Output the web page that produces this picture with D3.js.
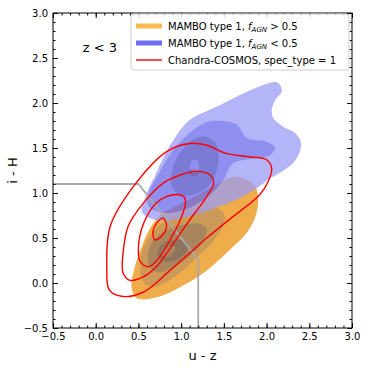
<!DOCTYPE html>
<html>
<head>
<meta charset="utf-8">
<script src="https://cdn.jsdelivr.net/npm/d3@7"></script>
<style>
  body { margin: 0; background: #fff; }
  text { font-family: "DejaVu Sans", sans-serif; }
</style>
</head>
<body>
<div id="chart"></div>
<script>
// axis ranges and ticks
var xDomain = [-0.5, 3.0];
var yDomain = [-0.5, 3.0];
var majorTicks = [-0.5, 0.0, 0.5, 1.0, 1.5, 2.0, 2.5, 3.0];

// MAMBO type 1, fAGN > 0.5 : density levels (u-z, i-H), outer -> inner
var agnHi1 = [[0.48,-0.17],[0.75,-0.15],[1.0,-0.04],[1.3,0.14],[1.57,0.37],[1.77,0.56],[1.88,0.77],[1.90,0.96],[1.86,1.08],[1.65,1.18],[1.42,1.10],[1.2,0.98],[0.95,0.86],[0.75,0.75],[0.62,0.58],[0.53,0.38],[0.45,0.15],[0.42,-0.05]];
var agnHi2 = [[0.52,0.15],[0.58,-0.01],[0.70,-0.04],[0.91,0.06],[1.18,0.28],[1.42,0.52],[1.52,0.72],[1.45,0.82],[1.2,0.82],[0.95,0.75],[0.72,0.62],[0.56,0.40]];
var agnHi3 = [[0.62,0.2],[0.72,0.12],[0.9,0.17],[1.1,0.3],[1.25,0.45],[1.3,0.6],[1.2,0.66],[0.98,0.64],[0.78,0.56],[0.64,0.42]];
var agnHi4 = [[0.72,0.3],[0.8,0.24],[0.95,0.26],[1.07,0.36],[1.06,0.46],[0.92,0.48],[0.78,0.44]];
var agnHiHole = [[0.78,0.30],[0.84,0.28],[0.92,0.35],[0.93,0.40],[0.86,0.41],[0.79,0.36]];
var agnHiSpot = [[1.08,1.23],[1.13,1.27],[1.19,1.25],[1.2,1.21],[1.14,1.19]];

// MAMBO type 1, fAGN < 0.5
var agnLo1 = [[2.12,2.23],[2.18,2.14],[2.10,2.03],[2.06,1.92],[2.08,1.83],[2.19,1.74],[2.33,1.67],[2.40,1.57],[2.39,1.46],[2.31,1.33],[2.18,1.24],[2.04,1.16],[1.88,1.05],[1.70,0.95],[1.50,0.87],[1.16,0.76],[0.90,0.70],[0.70,0.70],[0.54,0.79],[0.58,0.95],[0.62,1.05],[0.69,1.18],[0.77,1.35],[0.91,1.59],[1.10,1.81],[1.42,1.96],[1.69,2.09],[1.96,2.2]];
var agnLo2 = [[1.30,1.79],[1.48,1.80],[1.65,1.76],[1.77,1.61],[2.0,1.57],[2.1,1.50],[2.04,1.42],[1.88,1.39],[1.61,1.33],[1.49,1.14],[1.30,0.95],[1.06,0.82],[0.80,0.78],[0.62,0.85],[0.62,1.0],[0.73,1.2],[0.85,1.40],[0.99,1.57],[1.14,1.70]];
var agnLo3 = [[1.26,1.63],[1.40,1.56],[1.44,1.40],[1.40,1.20],[1.30,1.06],[1.14,0.98],[0.98,0.98],[0.89,1.08],[0.90,1.28],[0.99,1.45],[1.12,1.58]];
var agnLoHole = [[1.10,1.30],[1.14,1.37],[1.19,1.36],[1.21,1.28],[1.17,1.22],[1.12,1.23]];

// Chandra-COSMOS, spec_type = 1 contours
var cc1 = [[0.13,0.18],[0.17,0.63],[0.44,1.07],[0.83,1.46],[1.10,1.55],[1.30,1.53],[1.53,1.44],[1.81,1.40],[2.0,1.37],[2.06,1.27],[2.02,1.13],[1.92,0.98],[1.57,0.71],[1.30,0.50],[0.87,0.14],[0.56,-0.10],[0.32,-0.15],[0.16,-0.08]];
var cc2 = [[0.32,0.33],[0.38,0.63],[0.56,0.89],[0.79,1.11],[0.99,1.20],[1.18,1.24],[1.34,1.20],[1.38,1.11],[1.30,0.96],[1.10,0.70],[0.91,0.44],[0.71,0.18],[0.56,0.07],[0.40,0.03],[0.32,0.11]];
var cc3 = [[0.50,0.40],[0.56,0.66],[0.71,0.89],[0.91,0.98],[1.03,0.96],[1.05,0.89],[0.99,0.70],[0.87,0.48],[0.75,0.29],[0.62,0.18],[0.52,0.24]];
var cc4 = [[0.71,0.66],[0.79,0.72],[0.83,0.63],[0.77,0.52],[0.69,0.48],[0.67,0.57]];

// colour-colour selection wedge
var wedge = [[-0.5,1.1],[0.5,1.1],[1.2,0.26],[1.2,-0.5]];

var W = 368, H = 368;
var margin = {left: 53, top: 13, right: 16, bottom: 40};
var pw = W - margin.left - margin.right;
var ph = H - margin.top - margin.bottom;

var svg = d3.select("#chart").append("svg")
            .attr("width", W)
            .attr("height", H);

var x = d3.scaleLinear().domain(xDomain).range([0, pw]);
var y = d3.scaleLinear().domain(yDomain).range([ph, 0]);

var g = svg.append("g")
           .attr("transform", "translate(" + margin.left + "," + margin.top + ")");

g.append("clipPath").attr("id", "clip")
 .append("rect").attr("width", pw).attr("height", ph);

var plot = g.append("g").attr("clip-path", "url(#clip)");

var smooth = d3.line()
               .x(function(d){ return x(d[0]); })
               .y(function(d){ return y(d[1]); })
               .curve(d3.curveCatmullRomClosed.alpha(0.5));

// orange (fAGN > 0.5)
var og = plot.append("g");
var orangeCols = ["#eeac4a", "#cc9a58", "#a8855c"];
[agnHi1, agnHi2, agnHi3].forEach(function(lv, i){
	og.append("path").attr("d", smooth(lv)).attr("fill", orangeCols[i]);
});
og.append("path").attr("d", smooth(agnHi4) + smooth(agnHiHole))
  .attr("fill", "#8e745c").attr("fill-rule", "evenodd");
og.append("path").attr("d", smooth(agnHiSpot)).attr("fill", "#eeac4a");

// blue (fAGN < 0.5), drawn over orange
var bg = plot.append("g").attr("opacity", 0.75);
bg.append("path").attr("d", smooth(agnLo1)).attr("fill", "#9b9bf6");
bg.append("path").attr("d", smooth(agnLo2)).attr("fill", "#6a6aec");
bg.append("path").attr("d", smooth(agnLo3) + smooth(agnLoHole))
  .attr("fill", "#5050c8").attr("fill-rule", "evenodd");

// wedge
plot.append("path")
    .attr("d", d3.line().x(function(d){ return x(d[0]); }).y(function(d){ return y(d[1]); })(wedge))
    .attr("fill", "none")
    .attr("stroke", "#aaaaaa")
    .attr("stroke-width", 1.8);

// Chandra contours
[cc1, cc2, cc3, cc4].forEach(function(c){
	plot.append("path")
	    .attr("d", smooth(c))
	    .attr("fill", "none")
	    .attr("stroke", "#ff0000")
	    .attr("stroke-width", 1.4);
});

// axes, ticks inward on all sides
var minorTicks = d3.range(-5, 31).map(function(d){ return d / 10; });
var fmt = d3.format(".1f");

function addAxis(axisFn, scale, tr, labels){
	g.append("g").attr("transform", tr)
	 .call(axisFn(scale).tickValues(minorTicks).tickSize(-2.5).tickFormat(""))
	 .call(function(s){ s.select(".domain").remove(); });
	var a = g.append("g").attr("transform", tr)
	 .call(axisFn(scale).tickValues(majorTicks).tickSize(-5).tickPadding(5)
	       .tickFormat(labels ? fmt : ""));
	a.select(".domain").remove();
	a.selectAll("text").attr("font-size", 10).attr("fill", "#000")
	 .style("font-family", "DejaVu Sans");
	return a;
}
addAxis(d3.axisBottom, x, "translate(0," + ph + ")", true);
addAxis(d3.axisTop, x, "translate(0,0)", false);
addAxis(d3.axisLeft, y, "translate(0,0)", true);
addAxis(d3.axisRight, y, "translate(" + pw + ",0)", false);

g.append("rect")
 .attr("width", pw).attr("height", ph)
 .attr("fill", "none").attr("stroke", "#000").attr("stroke-width", 1);

// axis labels
svg.append("text")
   .attr("x", margin.left + pw / 2).attr("y", 360)
   .attr("text-anchor", "middle").attr("font-size", 13)
   .text("u - z");
svg.append("text")
   .attr("transform", "translate(17," + (margin.top + ph / 2) + ") rotate(-90)")
   .attr("text-anchor", "middle").attr("font-size", 13)
   .text("i - H");

g.append("text")
 .attr("x", x(0.05)).attr("y", y(2.57))
 .attr("text-anchor", "middle").attr("font-size", 13)
 .text("z < 3");

// legend
var legendLabels = [
	{pre: "MAMBO type 1, ", post: " > 0.5", color: "#f9b94e", w: 5},
	{pre: "MAMBO type 1, ", post: " < 0.5", color: "#6e6ef5", w: 5},
	{pre: "Chandra-COSMOS, spec_type = 1", post: null, color: "#ff0000", w: 1.4}
];
var lg = svg.append("g");
lg.append("rect")
  .attr("x", 131).attr("y", 14).attr("width", 218).attr("height", 56)
  .attr("rx", 3).attr("fill", "#fff").attr("fill-opacity", 0.85)
  .attr("stroke", "#cccccc").attr("stroke-width", 1);
legendLabels.forEach(function(d, i){
	var cy = 26 + i * 17;
	lg.append("line")
	  .attr("x1", 136).attr("x2", 162).attr("y1", cy).attr("y2", cy)
	  .attr("stroke", d.color).attr("stroke-width", d.w);
	var t = lg.append("text").attr("x", 168).attr("y", cy + 3.6).attr("font-size", 10);
	t.append("tspan").text(d.pre);
	if (d.post !== null) {
		t.append("tspan").attr("font-style", "italic").text("f");
		t.append("tspan").attr("font-style", "italic").attr("font-size", 7).attr("dy", 2).text("AGN");
		t.append("tspan").attr("dy", -2).text(d.post);
	}
});
</script>
</body>
</html>
